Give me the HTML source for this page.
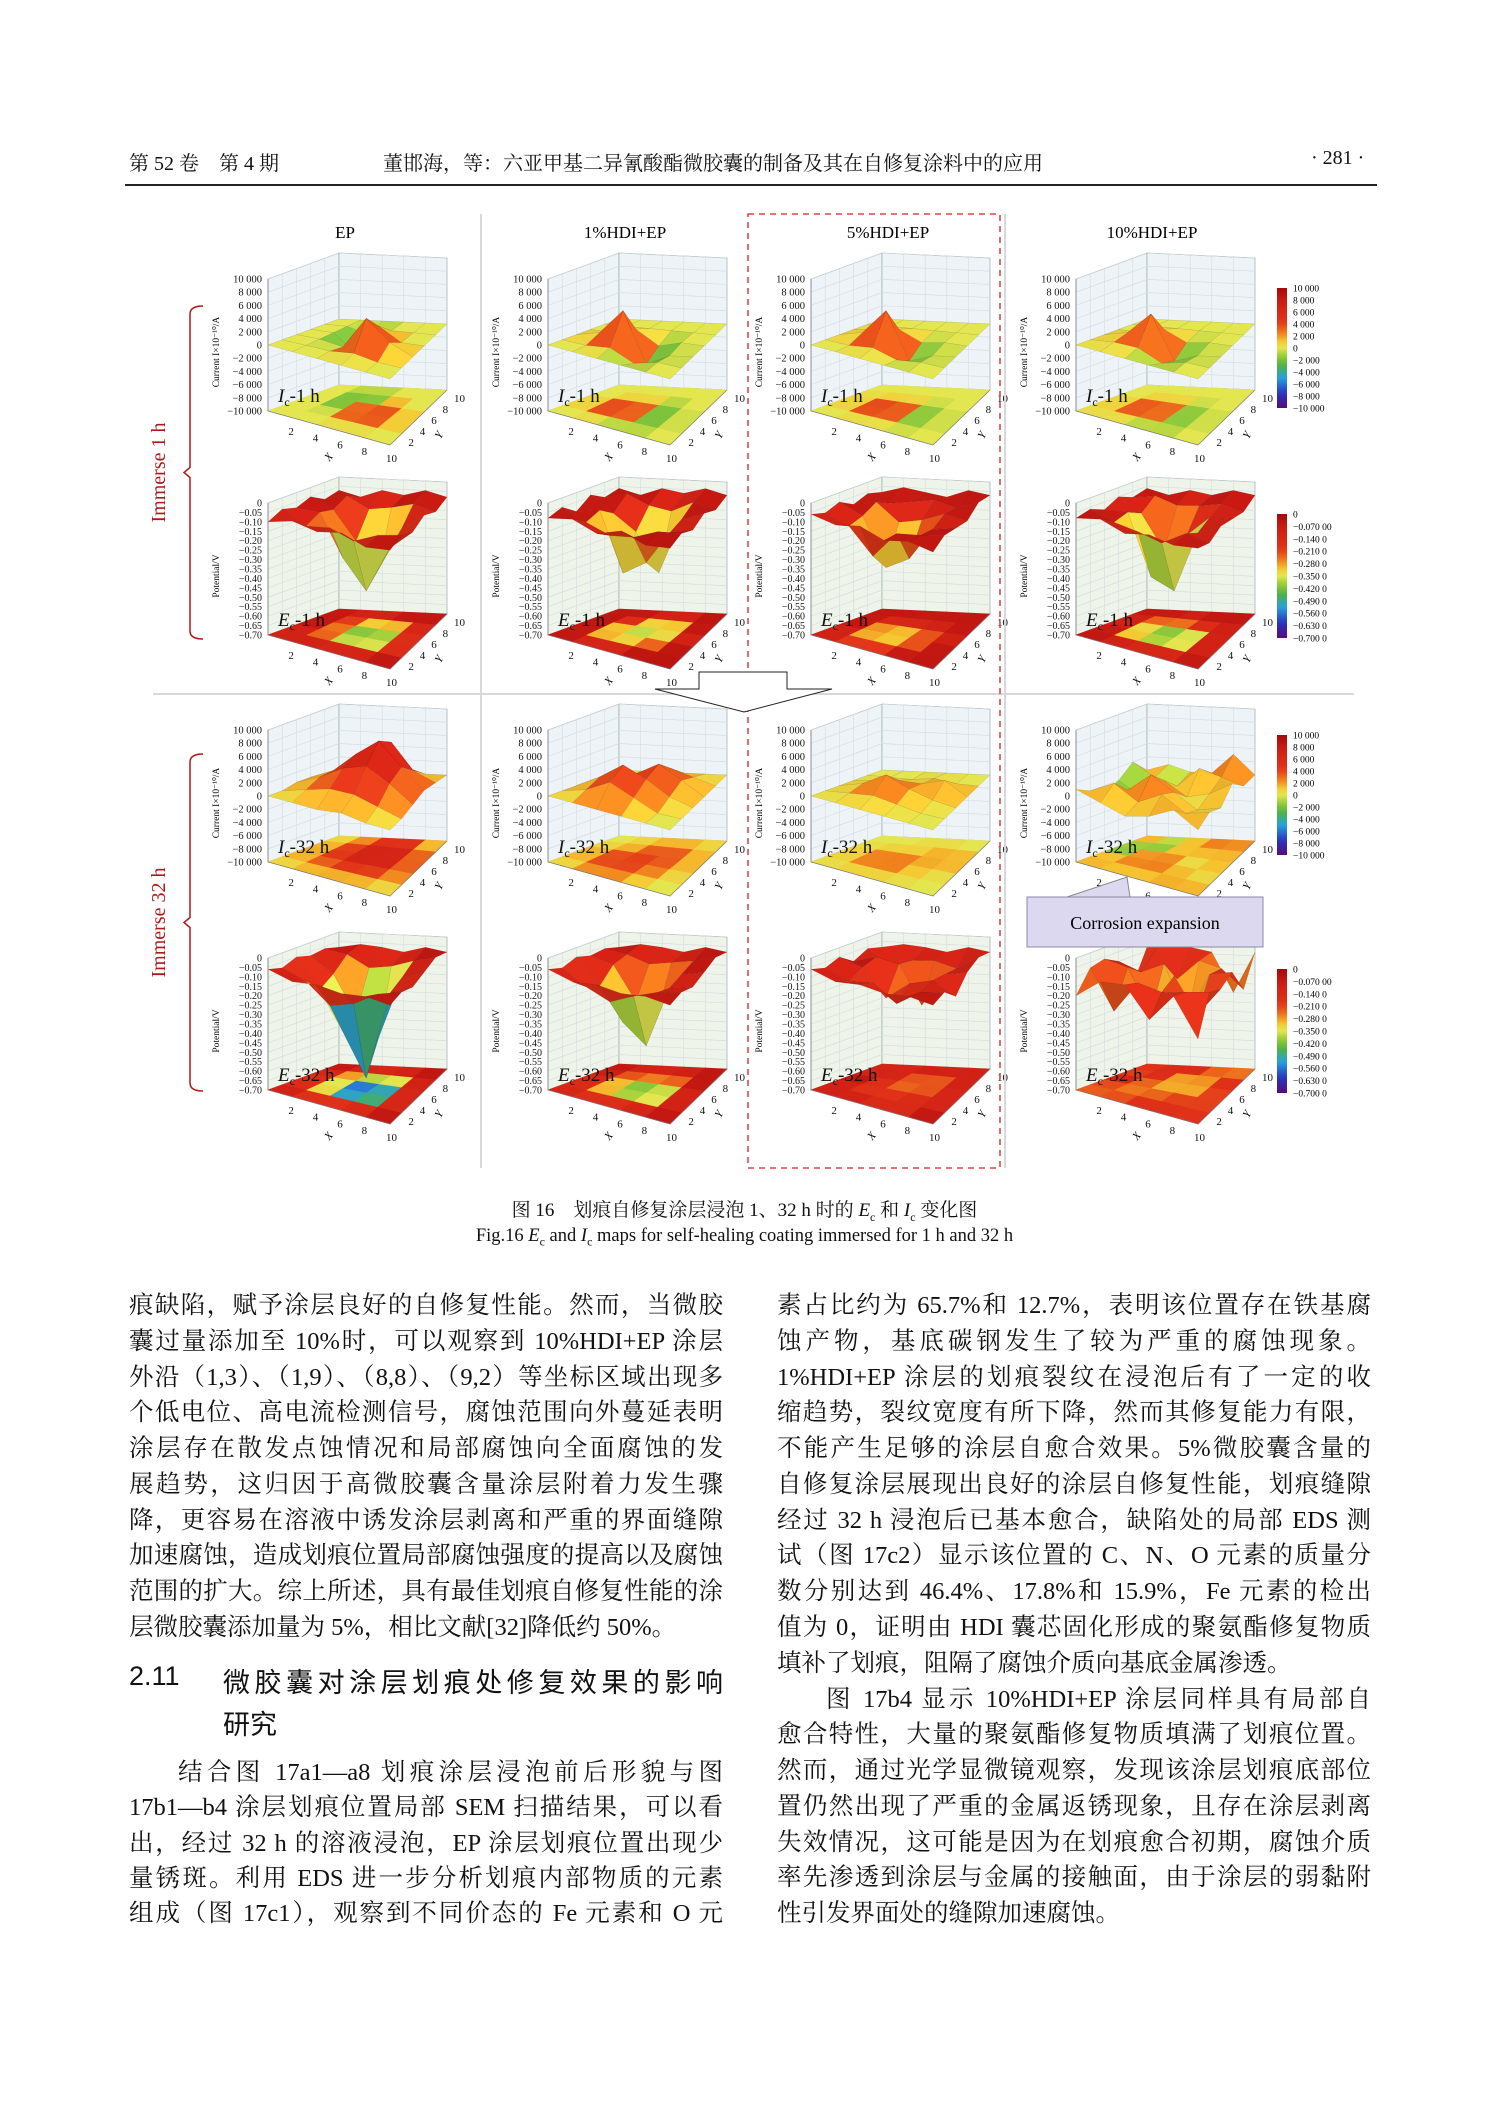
<!DOCTYPE html>
<html><head><meta charset="utf-8">
<style>
body{margin:0;background:#fff;}
#page{position:relative;width:1489px;height:2106px;overflow:hidden;background:#fff;font-family:"Liberation Serif","Noto Serif CJK SC",serif;color:#111;}
.ln{position:absolute;height:36px;line-height:36px;font-size:24.5px;text-align:justify;text-align-last:justify;white-space:nowrap;}
.ln.last{text-align-last:left;}
.L{left:129px;width:594px;}
.R{left:777px;width:594px;}
.hd{position:absolute;font-family:"Liberation Sans","Noto Sans CJK SC",sans-serif;font-size:27px;}
</style></head>
<body>
<div id="page">
<div style="position:absolute;left:129px;top:147px;font-size:20px;">第 52 卷　第 4 期</div>
<div style="position:absolute;left:383px;top:147px;font-size:20px;">董邯海，等：六亚甲基二异氰酸酯微胶囊的制备及其在自修复涂料中的应用</div>
<div style="position:absolute;left:1311px;top:147px;font-size:20px;">· 281 ·</div>
<div style="position:absolute;left:125px;top:184px;width:1252px;height:1.5px;background:#222;"></div>

<svg id="fig" width="1489" height="1180" style="position:absolute;left:0;top:0;" font-family="Liberation Serif, serif"></svg>

<div style="position:absolute;left:0;width:1489px;top:1195px;text-align:center;font-size:19px;">图 16　划痕自修复涂层浸泡 1、32 h 时的 <i>E</i><sub style="font-size:12px">c</sub> 和 <i>I</i><sub style="font-size:12px">c</sub> 变化图</div>
<div style="position:absolute;left:0;width:1489px;top:1226px;text-align:center;font-size:18.5px;">Fig.16 <i>E</i><sub style="font-size:12px">c</sub> and <i>I</i><sub style="font-size:12px">c</sub> maps for self-healing coating immersed for 1 h and 32 h</div>

<div>
<div class="ln L" style="top:1288px">痕缺陷，赋予涂层良好的自修复性能。然而，当微胶</div>
<div class="ln L" style="top:1324px">囊过量添加至 10%时，可以观察到 10%HDI+EP 涂层</div>
<div class="ln L" style="top:1360px">外沿（1,3）、（1,9）、（8,8）、（9,2）等坐标区域出现多</div>
<div class="ln L" style="top:1395px">个低电位、高电流检测信号，腐蚀范围向外蔓延表明</div>
<div class="ln L" style="top:1431px">涂层存在散发点蚀情况和局部腐蚀向全面腐蚀的发</div>
<div class="ln L" style="top:1467px">展趋势，这归因于高微胶囊含量涂层附着力发生骤</div>
<div class="ln L" style="top:1503px">降，更容易在溶液中诱发涂层剥离和严重的界面缝隙</div>
<div class="ln L" style="top:1538px">加速腐蚀，造成划痕位置局部腐蚀强度的提高以及腐蚀</div>
<div class="ln L" style="top:1574px">范围的扩大。综上所述，具有最佳划痕自修复性能的涂</div>
<div class="ln L last" style="top:1610px">层微胶囊添加量为 5%，相比文献[32]降低约 50%。</div>
<div class="hd" style="left:129px;top:1661px;">2.11</div>
<div class="hd" style="left:223px;top:1661px;width:500px;text-align:justify;text-align-last:justify;">微胶囊对涂层划痕处修复效果的影响</div>
<div class="hd" style="left:223px;top:1703px;">研究</div>
<div class="ln L" style="top:1755px;padding-left:49px;width:545px">结合图 17a1—a8 划痕涂层浸泡前后形貌与图</div>
<div class="ln L" style="top:1790px">17b1—b4 涂层划痕位置局部 SEM 扫描结果，可以看</div>
<div class="ln L" style="top:1826px">出，经过 32 h 的溶液浸泡，EP 涂层划痕位置出现少</div>
<div class="ln L" style="top:1861px">量锈斑。利用 EDS 进一步分析划痕内部物质的元素</div>
<div class="ln L" style="top:1896px">组成（图 17c1），观察到不同价态的 Fe 元素和 O 元</div>
</div>
<div>
<div class="ln R" style="top:1288px">素占比约为 65.7%和 12.7%，表明该位置存在铁基腐</div>
<div class="ln R" style="top:1324px">蚀产物，基底碳钢发生了较为严重的腐蚀现象。</div>
<div class="ln R" style="top:1360px">1%HDI+EP 涂层的划痕裂纹在浸泡后有了一定的收</div>
<div class="ln R" style="top:1395px">缩趋势，裂纹宽度有所下降，然而其修复能力有限，</div>
<div class="ln R" style="top:1431px">不能产生足够的涂层自愈合效果。5%微胶囊含量的</div>
<div class="ln R" style="top:1467px">自修复涂层展现出良好的涂层自修复性能，划痕缝隙</div>
<div class="ln R" style="top:1503px">经过 32 h 浸泡后已基本愈合，缺陷处的局部 EDS 测</div>
<div class="ln R" style="top:1538px">试（图 17c2）显示该位置的 C、N、O 元素的质量分</div>
<div class="ln R" style="top:1574px">数分别达到 46.4%、17.8%和 15.9%，Fe 元素的检出</div>
<div class="ln R" style="top:1610px">值为 0，证明由 HDI 囊芯固化形成的聚氨酯修复物质</div>
<div class="ln R last" style="top:1646px">填补了划痕，阻隔了腐蚀介质向基底金属渗透。</div>
<div class="ln R" style="top:1682px;padding-left:49px;width:545px">图 17b4 显示 10%HDI+EP 涂层同样具有局部自</div>
<div class="ln R" style="top:1717px">愈合特性，大量的聚氨酯修复物质填满了划痕位置。</div>
<div class="ln R" style="top:1753px">然而，通过光学显微镜观察，发现该涂层划痕底部位</div>
<div class="ln R" style="top:1789px">置仍然出现了严重的金属返锈现象，且存在涂层剥离</div>
<div class="ln R" style="top:1825px">失效情况，这可能是因为在划痕愈合初期，腐蚀介质</div>
<div class="ln R" style="top:1860px">率先渗透到涂层与金属的接触面，由于涂层的弱黏附</div>
<div class="ln R last" style="top:1896px">性引发界面处的缝隙加速腐蚀。</div>
</div>
</div>

<script>
// ---- data (Ic in 1000 x1e-10 A, Ec in 0.01 V), grids [x-index][y-index], x,y = 0,2,...,10
const columns = ["EP","1%HDI+EP","5%HDI+EP","10%HDI+EP"];
const icTicks = ["10 000","8 000","6 000","4 000","2 000","0","−2 000","−4 000","−6 000","−8 000","−10 000"];
const ecTicks = ["0","−0.05","−0.10","−0.15","−0.20","−0.25","−0.30","−0.35","−0.40","−0.45","−0.50","−0.55","−0.60","−0.65","−0.70"];
const xyTicks = ["2","4","6","8","10"];
const icBarLabels = ["10 000","8 000","6 000","4 000","2 000","0","−2 000","−4 000","−6 000","−8 000","−10 000"];
const ecBarLabels = ["0","−0.070 00","−0.140 0","−0.210 0","−0.280 0","−0.350 0","−0.420 0","−0.490 0","−0.560 0","−0.630 0","−0.700 0"];

const ic1h_EP=[[0,0,0,0,0,0],[0,0,0,0,0,0],[0,0,-0.5,-2.5,-1,0],[0,0.5,4.5,2,0,0],[0,0,1.5,0,0,0],[0,0,0,0,0,0]];
const ic1h_1=[[0,0,0,0,0,0],[0,0,1,0,0,0],[0,0.5,5,1,0,0],[0,-1,-2.5,-1,0,0],[0,0,-0.5,0,0,0],[0,0,0,0,0,0]];
const ic1h_5=[[0,0,0,0,0,0],[0,0,1,0.5,0,0],[0,0.5,5,1,0,0],[0,-0.5,-2,-0.5,0,0],[0,0,-0.5,0,0,0],[0,0,0,0,0,0]];
const ic1h_10=[[0,0,0,0,0,0],[0,0.5,1,0,0,0],[0,0.5,4.5,1,0,0],[0,-1,-2,-0.5,0,0],[0,0,-0.5,0,0,0],[0,0,0,0,0,0]];
const ic32_EP=[[0,0,0.5,0.5,0,0],[0,1,2,2,1,0],[0,2,4,5,3,0.5],[0.5,2,5,7.5,6,1],[0,1,3,4,2,0],[0,0,0.5,1,0.5,0]];
const ic32_1=[[0,0,0,0,0,0],[0,1,2,1,0,0],[0,3,4.5,2,1,0],[0,1.5,3,4,2,0],[0,0,1,2,1,0],[0,0,0,0,0,0]];
const ic32_5=[[0,0,0,0,0,0],[0,0.5,1,0.5,0,0],[0,1,3,1,0,0],[0,0.5,1.5,1,0.5,0],[0,0,0.5,2,0,0],[0,0,0,0,0,0]];
const ic32_10=[[1,0,-1,0,2,0],[0,2,0,-2,0,1],[-1,0,3,1,-1,0],[0,2,1,-1,2,0],[2,0,-1,0,1,3],[0,1,0,2,0,0]];
const ec1h_EP=[[-10,-6,-8,-5,-9,-7],[-6,-12,-8,-10,-6,-10],[-8,-10,-30,-25,-12,-6],[-5,-14,-45,-38,-10,-8],[-9,-8,-20,-15,-7,-5],[-7,-5,-9,-6,-10,-8]];
const ec1h_1=[[-8,-5,-10,-4,-8,-6],[-5,-10,-7,-12,-5,-9],[-9,-14,-38,-20,-10,-5],[-4,-12,-30,-40,-12,-7],[-8,-6,-12,-10,-6,-4],[-6,-4,-8,-5,-9,-7]];
const ec1h_5=[[-6,-8,-5,-9,-6,-8],[-8,-12,-10,-6,-10,-5],[-5,-25,-35,-15,-8,-7],[-9,-10,-28,-12,-6,-9],[-6,-8,-10,-7,-9,-5],[-8,-5,-7,-9,-5,-7]];
const ec1h_10=[[-8,-6,-9,-5,-8,-6],[-5,-10,-8,-12,-6,-9],[-9,-12,-40,-30,-10,-6],[-6,-15,-45,-20,-9,-8],[-8,-7,-12,-9,-7,-5],[-6,-9,-6,-8,-10,-7]];
const ec32_EP=[[-6,-8,-5,-7,-6,-8],[-9,-12,-20,-15,-8,-6],[-7,-22,-40,-35,-14,-7],[-8,-18,-62,-45,-12,-9],[-6,-10,-15,-12,-8,-6],[-7,-6,-9,-7,-5,-8]];
const ec32_1=[[-6,-8,-5,-7,-6,-8],[-9,-15,-18,-10,-8,-6],[-7,-20,-35,-28,-12,-7],[-8,-14,-45,-30,-10,-9],[-6,-9,-12,-10,-8,-6],[-7,-6,-9,-7,-5,-8]];
const ec32_5=[[-6,-8,-5,-10,-6,-8],[-9,-12,-8,-6,-14,-6],[-7,-10,-22,-8,-10,-7],[-8,-18,-12,-28,-9,-9],[-6,-9,-8,-10,-12,-6],[-7,-6,-14,-7,-5,-8]];
const ec32_10=[[-20,-8,-6,-10,-25,-8],[-9,-28,-8,-14,-6,-6],[-7,-10,-30,-8,-20,-7],[-22,-12,-8,-35,-9,-9],[-6,-9,-26,-10,-12,-30],[-25,-6,-10,-7,-22,-8]];

const NS="http://www.w3.org/2000/svg";
const svg=document.getElementById('fig');
function mk(tag,attrs,parent){const e=document.createElementNS(NS,tag);for(const k in attrs)e.setAttribute(k,attrs[k]);(parent||svg).appendChild(e);return e;}
const stops=[[0,[90,10,120]],[0.12,[40,50,190]],[0.25,[40,160,220]],[0.36,[80,180,60]],[0.45,[170,210,60]],[0.5,[228,230,80]],[0.56,[245,200,50]],[0.62,[240,130,30]],[0.72,[225,50,25]],[0.88,[205,30,20]],[1,[165,10,10]]];
function cmap(t,sh){t=Math.max(0,Math.min(1,t));sh=sh||1;for(let k=1;k<stops.length;k++){if(t<=stops[k][0]){const a=stops[k-1],b=stops[k],f=(t-a[0])/(b[0]-a[0]);const c=a[1].map((v,i)=>Math.min(255,Math.round((v+(b[1][i]-v)*f)*sh)));return `rgb(${c[0]},${c[1]},${c[2]})`;}}return 'rgb(165,10,10)';}
const colOff=[0,280,543,808];
const rowOff=[0,224,451,679];
function drawPanel(c,r,grid,kind,lab){
  const ox=colOff[c],oy=rowOff[r];
  const g=mk('g',{});
  
  
  const L=[268+ox,411+oy],F=[390+ox,445+oy],R=[447+ox,390+oy],B=[339+ox,385+oy],H=132;
  const P=(u,v,w)=>{const a=(1-u)*(1-v),b=u*(1-v),cc=u*v,d=(1-u)*v;return [a*L[0]+b*F[0]+cc*R[0]+d*B[0],a*L[1]+b*F[1]+cc*R[1]+d*B[1]-w*H];};
  const pts=a=>a.map(p=>p[0].toFixed(1)+','+p[1].toFixed(1)).join(' ');
  const wallFill=kind==='ic'?'#edf3f6':'#eef4e9';
  mk('polygon',{points:pts([P(0,0,0),P(0,1,0),P(0,1,1),P(0,0,1)]),fill:wallFill,stroke:'#9aa',"stroke-width":0.7},g);
  mk('polygon',{points:pts([P(0,1,0),P(1,1,0),P(1,1,1),P(0,1,1)]),fill:wallFill,stroke:'#9aa',"stroke-width":0.7},g);
  for(let k=1;k<5;k++){
    mk('line',{x1:P(0,k/5,0)[0],y1:P(0,k/5,0)[1],x2:P(0,k/5,1)[0],y2:P(0,k/5,1)[1],stroke:'#d3dcdf',"stroke-width":0.6},g);
    mk('line',{x1:P(k/5,1,0)[0],y1:P(k/5,1,0)[1],x2:P(k/5,1,1)[0],y2:P(k/5,1,1)[1],stroke:'#d3dcdf',"stroke-width":0.6},g);
  }
  const ticks=kind==='ic'?icTicks:ecTicks;
  for(let k=0;k<ticks.length;k++){
    const w=1-k/(ticks.length-1);
    const a=P(0,0,w),b=P(0,1,w),d=P(1,1,w);
    mk('polyline',{points:pts([a,b,d]),fill:'none',stroke:'#d3dcdf',"stroke-width":0.6},g);
    const t=mk('text',{x:a[0]-6,y:a[1]+3.5,"font-size":kind==='ic'?10.5:10,"text-anchor":"end",fill:'#111'},g);t.textContent=ticks[k];
  }
  const val=v=>kind==='ic'?(v*1000+10000)/20000:(v/100+0.7)/0.7;
  const base=kind==='ic'?0:-8;
  const n=grid.length-1;
  const quads=[];
  for(let i=0;i<n;i++)for(let j=0;j<n;j++)quads.push([i,j]);
  quads.sort((a,b)=>(34*a[0]-55*a[1])-(34*b[0]-55*b[1]));
  const qcol=(i,j)=>{const vs=[grid[i][j],grid[i+1][j],grid[i][j+1],grid[i+1][j+1]];const avg=vs.reduce((s,x)=>s+x,0)/4;let ext=vs[0];vs.forEach(x=>{if(Math.abs(x-base)>Math.abs(ext-base))ext=x;});return avg+0.6*(ext-avg);};
  quads.forEach(([i,j])=>{
    const cv=qcol(i,j);
    mk('polygon',{points:pts([P(i/n,j/n,0),P((i+1)/n,j/n,0),P((i+1)/n,(j+1)/n,0),P(i/n,(j+1)/n,0)]),fill:cmap(val(cv)),stroke:cmap(val(cv)),"stroke-width":0.6},g);
  });
  quads.forEach(([i,j])=>{
    const cv=qcol(i,j);
    const d=(val(grid[i][j+1])-val(grid[i+1][j]));
    const sh=Math.max(0.85,Math.min(1.05,1+d*0.8));
    mk('polygon',{points:pts([P(i/n,j/n,val(grid[i][j])),P((i+1)/n,j/n,val(grid[i+1][j])),P((i+1)/n,(j+1)/n,val(grid[i+1][j+1])),P(i/n,(j+1)/n,val(grid[i][j+1]))]),fill:cmap(val(cv),sh),stroke:'rgba(0,0,0,0.15)',"stroke-width":0.5},g);
  });
  mk('polyline',{points:pts([P(0,0,1),P(0,0,0),P(1,0,0),P(1,1,0)]),fill:'none',stroke:'#778',"stroke-width":0.7},g);
  for(let k=0;k<xyTicks.length;k++){
    const f=(k+1)/5;
    const a=P(f,0,0);const t=mk('text',{x:a[0]-4,y:a[1]+17,"font-size":11,fill:'#111'},g);t.textContent=xyTicks[k];
    const b=P(1,f,0);const t2=mk('text',{x:b[0]+7,y:b[1]+12,"font-size":11,fill:'#111'},g);t2.textContent=xyTicks[k];
  }
  const xa=P(0.55,0,0);const tx=mk('text',{x:xa[0]-6,y:xa[1]+32,"font-size":11,"font-style":"italic",transform:`rotate(-50 ${xa[0]-6} ${xa[1]+32})`},g);tx.textContent='X';
  const ya=P(1,0.5,0);const ty=mk('text',{x:ya[0]+22,y:ya[1]+22,"font-size":11,"font-style":"italic",transform:`rotate(-60 ${ya[0]+22} ${ya[1]+22})`},g);ty.textContent='Y';
  const ttl=mk('text',{x:0,y:0,"font-size":9.5,"text-anchor":"middle",transform:`translate(${219+ox},${352+oy}) rotate(-90)`},g);
  ttl.textContent=kind==='ic'?'Current I×10⁻¹⁰/A':'Potential/V';
  const lb=mk('text',{x:278+ox,y:402+oy,"font-size":19,fill:'#111'},g);
  const s1=mk('tspan',{"font-style":"italic"},lb);s1.textContent=kind==='ic'?'I':'E';
  const s2=mk('tspan',{"font-size":12,dy:4},lb);s2.textContent='c';
  const s3=mk('tspan',{dy:-4},lb);s3.textContent=lab;
}
const grids=[[ic1h_EP,ic1h_1,ic1h_5,ic1h_10],[ec1h_EP,ec1h_1,ec1h_5,ec1h_10],[ic32_EP,ic32_1,ic32_5,ic32_10],[ec32_EP,ec32_1,ec32_5,ec32_10]];
const kinds=['ic','ec','ic','ec'],labs=['-1 h','-1 h','-32 h','-32 h'];
for(let r=0;r<4;r++)for(let c=0;c<4;c++)drawPanel(c,r,grids[r][c],kinds[r],labs[r]);

columns.forEach((t,i)=>{const e=mk('text',{x:[345,625,888,1152][i],y:238,"font-size":17,"text-anchor":"middle"});e.textContent=t;});
const grad=mk('defs',{});
const lg=mk('linearGradient',{id:'cb',x1:0,y1:0,x2:0,y2:1},grad);
for(let k=0;k<=20;k++)mk('stop',{offset:k/20,"stop-color":cmap(1-k/20)},lg);
[[0,'ic'],[1,'ec'],[2,'ic'],[3,'ec']].forEach(([r,kind])=>{
  const y0=(kind==='ic'?288:514)+(r>=2?(kind==='ic'?447:455):0),h=kind==='ic'?120:124;
  const rc=mk('rect',{x:1277,y:y0,width:10,height:h,fill:'url(#cb)'});
  
  const labsB=kind==='ic'?icBarLabels:ecBarLabels;
  labsB.forEach((t,k)=>{const e=mk('text',{x:1293,y:y0+k*h/(labsB.length-1)+3.5,"font-size":9.5});e.textContent=t;});
});
mk('line',{x1:481,y1:214,x2:481,y2:1168,stroke:'#d8d8d8',"stroke-width":2});
mk('line',{x1:1005,y1:214,x2:1005,y2:1168,stroke:'#d8d8d8',"stroke-width":2});
mk('line',{x1:153,y1:694,x2:1354,y2:694,stroke:'#d8d8d8',"stroke-width":2});
const db=mk('rect',{x:748,y:214,width:252,height:954,fill:'none',stroke:'#d02020',"stroke-width":1.3,"stroke-dasharray":"6,5"});

const ar=mk('polygon',{points:'699,672 787,672 787,689 832,689 744,712 655,689 699,689',fill:'#fff',stroke:'#222',"stroke-width":1});

[[0,'Immerse 1 h'],[1,'Immerse 32 h']].forEach(([k,t])=>{
  const y1=306+k*448,y2=639+k*452,ym=(y1+y2)/2;
  const p=mk('path',{d:`M203,${y1} Q190,${y1} 190,${y1+8} L190,${ym-5} L184,${ym} L190,${ym+5} L190,${y2-8} Q190,${y2} 203,${y2}`,fill:'none',stroke:'#b01818',"stroke-width":1.5});
  
  const e=mk('text',{x:0,y:0,"font-size":20,fill:'#b01818',"text-anchor":"middle",transform:`translate(165,${ym}) rotate(-90)`});
  e.textContent=t;
});
mk('polygon',{points:'1067,897 1127,877 1130,897',fill:'#dcd8f0',stroke:'#888',"stroke-width":1});
const cb=mk('rect',{x:1027,y:897,width:236,height:50,fill:'#dcd8f0',stroke:'#8a88a8',"stroke-width":1});

const ct=mk('text',{x:1145,y:929,"font-size":18,"text-anchor":"middle"});ct.textContent='Corrosion expansion';
</script>
</body></html>
